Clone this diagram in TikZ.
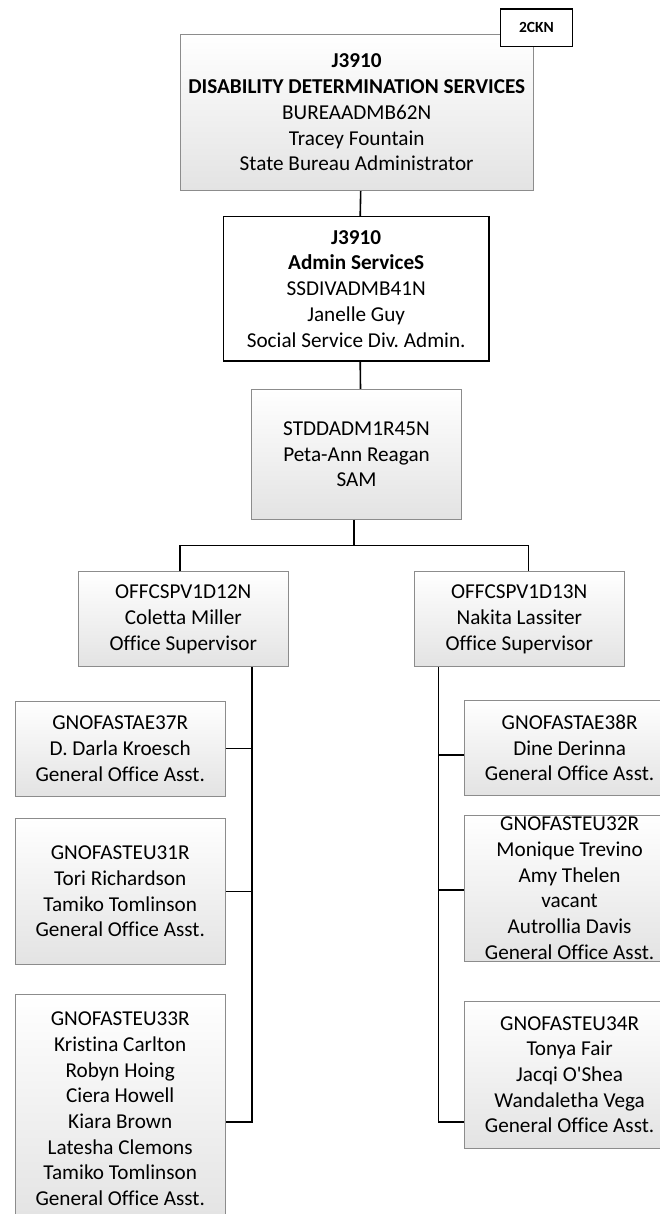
\documentclass[tikz,border=0pt]{standalone}
\usepackage{fontspec}
\setmainfont{Carlito}[Ligatures={TeXOff,CommonOff}]
\begin{document}
\begin{tikzpicture}[x=1pt, y=-1pt,
    base/.style={align=center, inner sep=0pt, font=\fontsize{21.2}{25.7}\selectfont\frenchspacing},
    box/.style={base, draw=black!45, line width=.9pt, top color=white, bottom color=black!11},
    wbox/.style={base, draw=black, line width=1.5pt, fill=white},
    conn/.style={line width=1.6pt}]
    \clip (0,0) rectangle (660,1214);
    \node[box, minimum width=353.3pt, minimum height=156.4pt] (top) at (356.7,112.5){\textbf{J3910}\\\textbf{DISABILITY DETERMINATION SERVICES}\\BUREAADMB62N\\Tracey Fountain\\State Bureau Administrator};
    \node[wbox, minimum width=71.6pt, minimum height=37.7pt, font=\fontsize{15.5}{18}\selectfont\bfseries] (ckn) at (536.5,27.8){2CKN};
    \node[wbox, minimum width=265.7pt, minimum height=144.3pt] (admin) at (356.2,288.8){\textbf{J3910}\\\textbf{Admin ServiceS}\\SSDIVADMB41N\\Janelle Guy\\Social Service Div. Admin.};
    \node[box, minimum width=210.4pt, minimum height=130pt] (sam) at (356.5,454.3){STDDADM1R45N\\Peta-Ann Reagan\\SAM};
    \node[box, minimum width=210pt, minimum height=95pt] (offl) at (183.3,619.2){OFFCSPV1D12N\\Coletta Miller\\Office Supervisor};
    \node[box, minimum width=210pt, minimum height=95pt] (offr) at (519.3,619.2){OFFCSPV1D13N\\Nakita Lassiter\\Office Supervisor};
    \node[box, minimum width=210pt, minimum height=95pt] (l1) at (120.2,748.5){GNOFASTAE37R\\D. Darla Kroesch\\General Office Asst.};
    \node[box, minimum width=210pt, minimum height=146.2pt] (l2) at (120.2,891.4){GNOFASTEU31R\\Tori Richardson\\Tamiko Tomlinson\\General Office Asst.};
    \node[box, minimum width=210pt, minimum height=229pt] (l3) at (120.2,1108.8){GNOFASTEU33R\\Kristina Carlton\\Robyn Hoing\\Ciera Howell\\Kiara Brown\\Latesha Clemons\\Tamiko Tomlinson\\General Office Asst.};
    \node[box, minimum width=210pt, minimum height=95pt] (r1) at (569.6,747.9){GNOFASTAE38R\\Dine Derinna\\General Office Asst.};
    \node[box, minimum width=210pt, minimum height=146.3pt] (r2) at (569.6,888.2){GNOFASTEU32R\\Monique Trevino\\Amy Thelen\\vacant\\Autrollia Davis\\General Office Asst.};
    \node[box, minimum width=210pt, minimum height=147.3pt] (r3) at (569.6,1074.7){GNOFASTEU34R\\Tonya Fair\\Jacqi O'Shea\\Wandaletha Vega\\General Office Asst.};
    \draw[conn] ([xshift=4pt]top.south) -- ([xshift=4pt]admin.north);
    \draw[conn] ([xshift=4pt]admin.south) -- ([xshift=4pt]sam.north);
    \draw[conn] ([xshift=-2.5pt]sam.south) -- ++(0,25.7) coordinate (bus);
    \draw[conn] ([xshift=-3.3pt]offl.north) |- (bus) -| ([xshift=9pt]offr.north);
    \coordinate (sl) at ([xshift=68.4pt]offl.south);
    \draw[conn] (sl) |- ([yshift=-12.9pt]l3.east);
    \draw[conn] (l1.east) -- (l1.east -| sl);
    \draw[conn] (l2.east) -- (l2.east -| sl);
    \coordinate (sr) at ([xshift=-80.7pt]offr.south);
    \draw[conn] (sr) |- ([yshift=-47pt]r3.west);
    \draw[conn] ([yshift=-7pt]r1.west) -- ([yshift=-7pt]r1.west -| sr);
    \draw[conn] ([yshift=-2pt]r2.west) -- ([yshift=-2pt]r2.west -| sr);
\end{tikzpicture}
\end{document}
